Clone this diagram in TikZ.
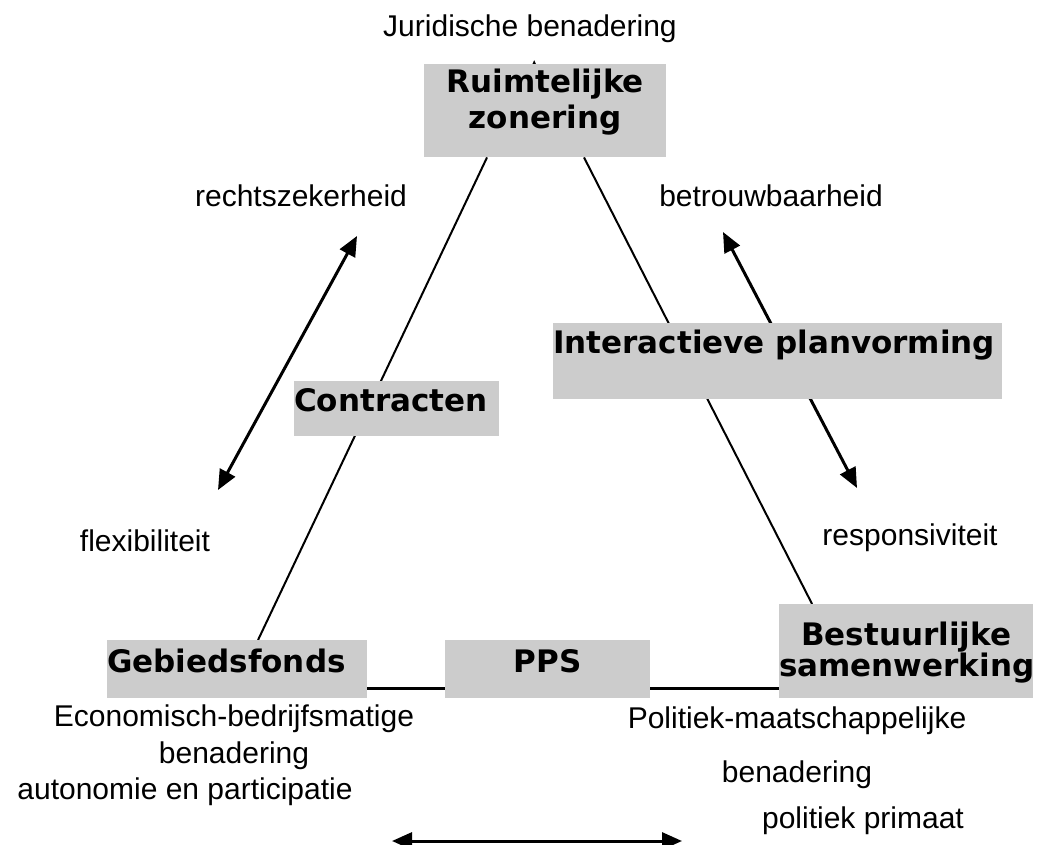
\documentclass[tikz,border=0pt]{standalone}
\usepackage{fontspec}
\setmainfont{Liberation Sans}
\newfontfamily\boxfont{DejaVu Sans}
\usepackage{tikz}
\usetikzlibrary{arrows.meta,calc,backgrounds}
\definecolor{BoxGray}{HTML}{CCCCCC}

\begin{document}
\begin{tikzpicture}[x=1pt,y=-1pt,
    block/.style={rectangle,fill=BoxGray,inner sep=0pt,anchor=north west,font=\boxfont\bfseries\fontsize{31}{36}\selectfont},
    lbl/.style={inner sep=0pt,anchor=base,font=\fontsize{30}{36}\selectfont},
    arrow/.style={{Triangle[length=20pt,width=17pt]}-{Triangle[length=20pt,width=17pt]},line width=3pt},
    side/.style={line width=2pt},
    bottomline/.style={line width=3pt}
]
\useasboundingbox (0,0) rectangle (1039,845);
% boxes
\node[block,text width=242pt,align=center,text height=28pt,text depth=65pt] (zoning) at (424,64) {Ruimtelijke\\zonering};
\node[block,text width=205pt,align=left,text height=30pt,text depth=25pt] (contracts) at (294,381) {Contracten};
\node[block,text width=449pt,align=left,text height=30pt,text depth=46pt] (interactive) at (553,323) {Interactieve planvorming};
\node[block,text width=260pt,align=left,text height=32pt,text depth=26pt] (fund) at (107,640) {Gebiedsfonds};
\node[block,text width=205pt,align=center,text height=32pt,text depth=26pt] (pps) at (445,640) {PPS};
\node[block,text width=254pt,align=center,text height=41pt,text depth=53pt,font=\boxfont\bfseries\fontsize{31}{27}\selectfont] (coop) at (779,604) {Bestuurlijke\\samenwerking};
% labels
\node[lbl] (legal) at (530,37) {Juridische benadering};
\node[lbl] (certainty) at (301,207) {rechtszekerheid};
\node[lbl] (reliability) at (771,207) {betrouwbaarheid};
\node[lbl] (flexibility) at (145,551) {flexibiliteit};
\node[lbl] (responsiveness) at (910,545) {responsiviteit};
\node[lbl,text width=380pt,align=center,font=\fontsize{30}{37}\selectfont] (economic) at (234,726) {Economisch-bedrijfsmatige\\benadering};
\node[lbl,text width=360pt,align=center,font=\fontsize{30}{54}\selectfont] (political) at (797,728) {Politiek-maatschappelijke\\benadering};
\node[lbl] (autonomy) at (185,799) {autonomie en participatie};
\node[lbl] (primacy) at (863,828) {politiek primaat};
% arrow ends
\coordinate (lefttop) at (357,236);
\coordinate (leftbottom) at (218,490);
\coordinate (righttop) at (723,232);
\coordinate (rightbottom) at (857,488);
\coordinate (botleft) at (392,841);
\coordinate (botright) at (682,841);
\begin{scope}[on background layer]
\draw[side] ($(zoning.south west)!0.26!(zoning.south east)$) -- ($(fund.north west)!0.58!(fund.north east)$);
\draw[side] ($(zoning.south west)!0.66!(zoning.south east)$) -- ($(coop.north west)!0.13!(coop.north east)$);
\draw[bottomline] ($(fund.south east)+(0,-10)$) -- ($(pps.south west)+(0,-10)$);
\draw[bottomline] ($(pps.south east)+(0,-10)$) -- ($(coop.south west)+(0,-10)$);
\draw[arrow] (lefttop) -- (leftbottom);
\draw[arrow] (righttop) -- (rightbottom);
\draw[-{Triangle[length=20pt,width=17pt]},line width=3pt] ($(zoning.north)+(-11,40)$) -- ($(zoning.north)+(-11,-4)$);
\end{scope}
\draw[arrow] (botleft) -- (botright);
\end{tikzpicture}
\end{document}
